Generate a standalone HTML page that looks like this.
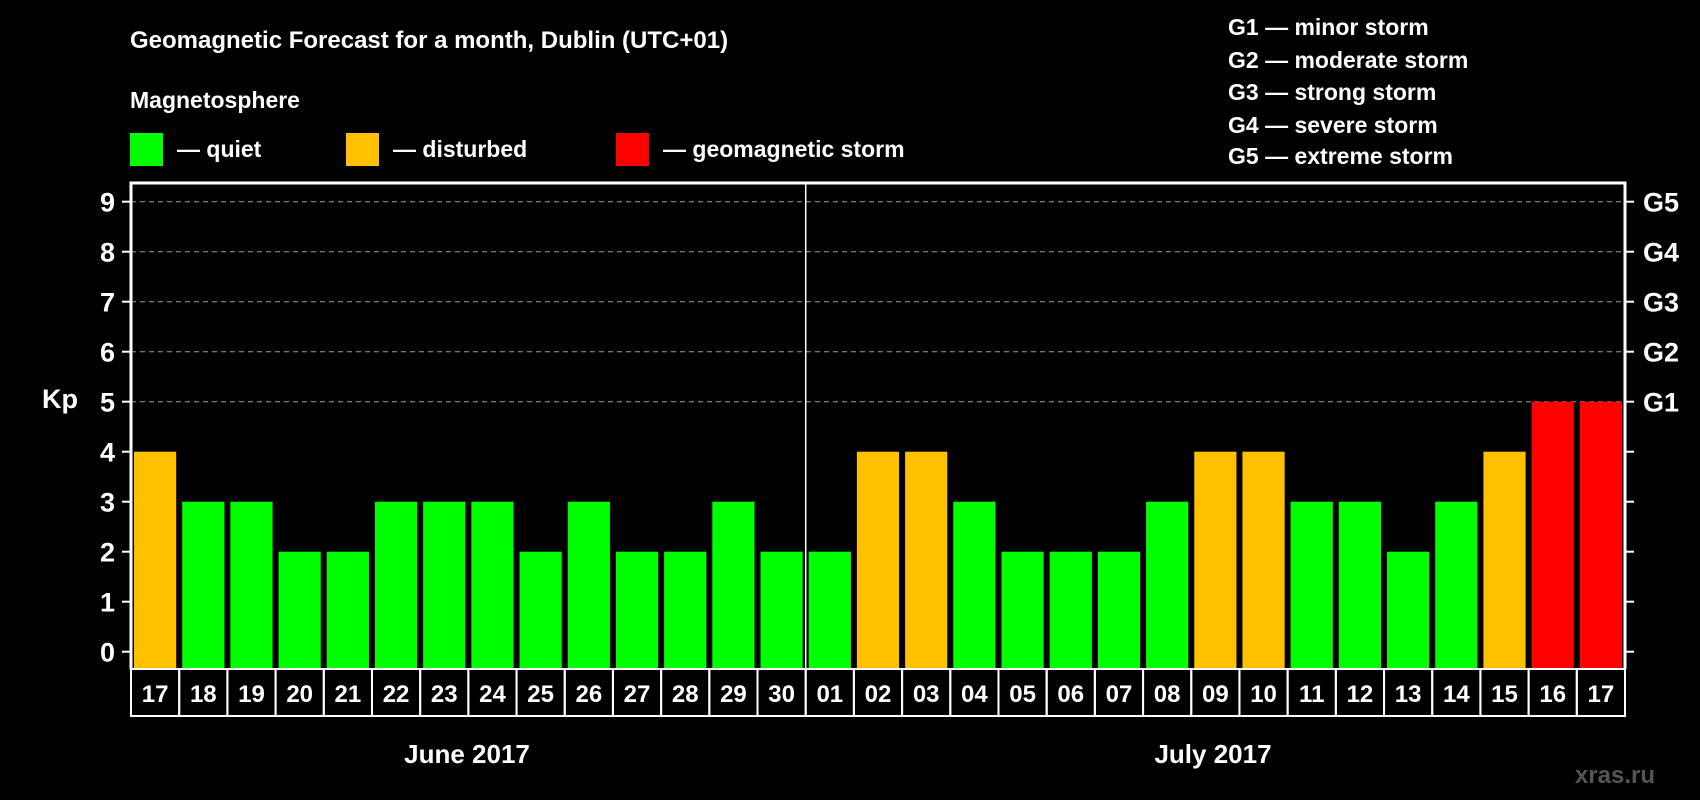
<!DOCTYPE html>
<html><head><meta charset="utf-8"><style>
body{margin:0;background:#000;}
svg{display:block;font-family:"Liberation Sans",Arial,sans-serif;font-weight:bold;}
</style></head><body>
<svg id="c" width="1700" height="800" viewBox="0 0 1700 800">
<rect width="1700" height="800" fill="#000"/>
<text x="130" y="48" fill="#fff" font-size="24">Geomagnetic Forecast for a month, Dublin (UTC+01)</text>
<text x="130" y="108" fill="#fff" font-size="23">Magnetosphere</text>
<g><rect x="130" y="133" width="33" height="33" fill="#00ff00"/><text x="177" y="157" fill="#fff" font-size="23">— quiet</text></g>
<g><rect x="346" y="133" width="33" height="33" fill="#ffc000"/><text x="393" y="157" fill="#fff" font-size="23">— disturbed</text></g>
<g><rect x="616" y="133" width="33" height="33" fill="#ff0000"/><text x="663" y="157" fill="#fff" font-size="23">— geomagnetic storm</text></g>
<g fill="#fff" font-size="23">
<text x="1228" y="35">G1 — minor storm</text>
<text x="1228" y="68">G2 — moderate storm</text>
<text x="1228" y="100">G3 — strong storm</text>
<text x="1228" y="133">G4 — severe storm</text>
<text x="1228" y="164">G5 — extreme storm</text>
</g>
<text x="42" y="408" fill="#fff" font-size="27">Kp</text>
<g id="plot"></g>
<text x="467" y="763" fill="#fff" font-size="26" text-anchor="middle">June 2017</text>
<text x="1213" y="763" fill="#fff" font-size="26" text-anchor="middle">July 2017</text>
<text x="1655" y="783" fill="#555" font-size="24" text-anchor="end">xras.ru</text>
</svg>
<script>
const days=["17","18","19","20","21","22","23","24","25","26","27","28","29","30","01","02","03","04","05","06","07","08","09","10","11","12","13","14","15","16","17"];
const kp=[4,3,3,2,2,3,3,3,2,3,2,2,3,2,2,4,4,3,2,2,2,3,4,4,3,3,2,3,4,5,5];
const yTicks=[0,1,2,3,4,5,6,7,8,9];
const gLabels=["G1","G2","G3","G4","G5"];
const NS="http://www.w3.org/2000/svg";
const L=131,R=1625,T=183,B=669,Y0=651.7,PU=50;
const cw=(R-L)/days.length;
const y=v=>Y0-v*PU;
const x=i=>L+i*cw;
const g=document.getElementById('plot');
function mk(t,a){const e=document.createElementNS(NS,t);for(const k in a)e.setAttribute(k,a[k]);g.appendChild(e);return e;}
yTicks.forEach(v=>{
 if(v>=5){const l=mk('line',{x1:L,x2:R,y1:y(v),y2:y(v),stroke:'#999','stroke-dasharray':'5,4','stroke-width':1});
 
 }
 const t1=mk('line',{x1:L-9,x2:L,y1:y(v),y2:y(v),stroke:'#fff','stroke-width':2});
 
 
 const t2=mk('line',{x1:R,x2:R+9,y1:y(v),y2:y(v),stroke:'#fff','stroke-width':2});
 
 
 const tx=mk('text',{x:115,y:y(v)+10,fill:'#fff','font-size':27,'text-anchor':'end'});
 tx.textContent=v;
 
 
});
gLabels.forEach((s,i)=>{
 const tx=mk('text',{x:1643,y:y(5+i)+10,fill:'#fff','font-size':27});
 tx.textContent=s;
 
 
});
kp.forEach((v,i)=>{
 const c=v>=5?'#ff0000':v>=4?'#ffc000':'#00ff00';
 const r=mk('rect',{x:x(i)+3,y:y(v),width:cw-6,height:B-y(v),fill:c});
 
 
 const bx=mk('rect',{x:x(i),y:B,width:cw,height:47,fill:'none',stroke:'#fff','stroke-width':2});
 
 
 const tx=mk('text',{x:x(i)+cw/2,y:B+33,fill:'#fff','font-size':24,'text-anchor':'middle'});
 tx.textContent=days[i];
 
 
});
const div=mk('line',{x1:x(14),x2:x(14),y1:T,y2:B,stroke:'#fff','stroke-width':1.5});


const fr=mk('path',{d:`M${L} ${B}V${T}H${R}V${B}`,fill:'none',stroke:'#fff','stroke-width':3});


</script>
</body></html>
